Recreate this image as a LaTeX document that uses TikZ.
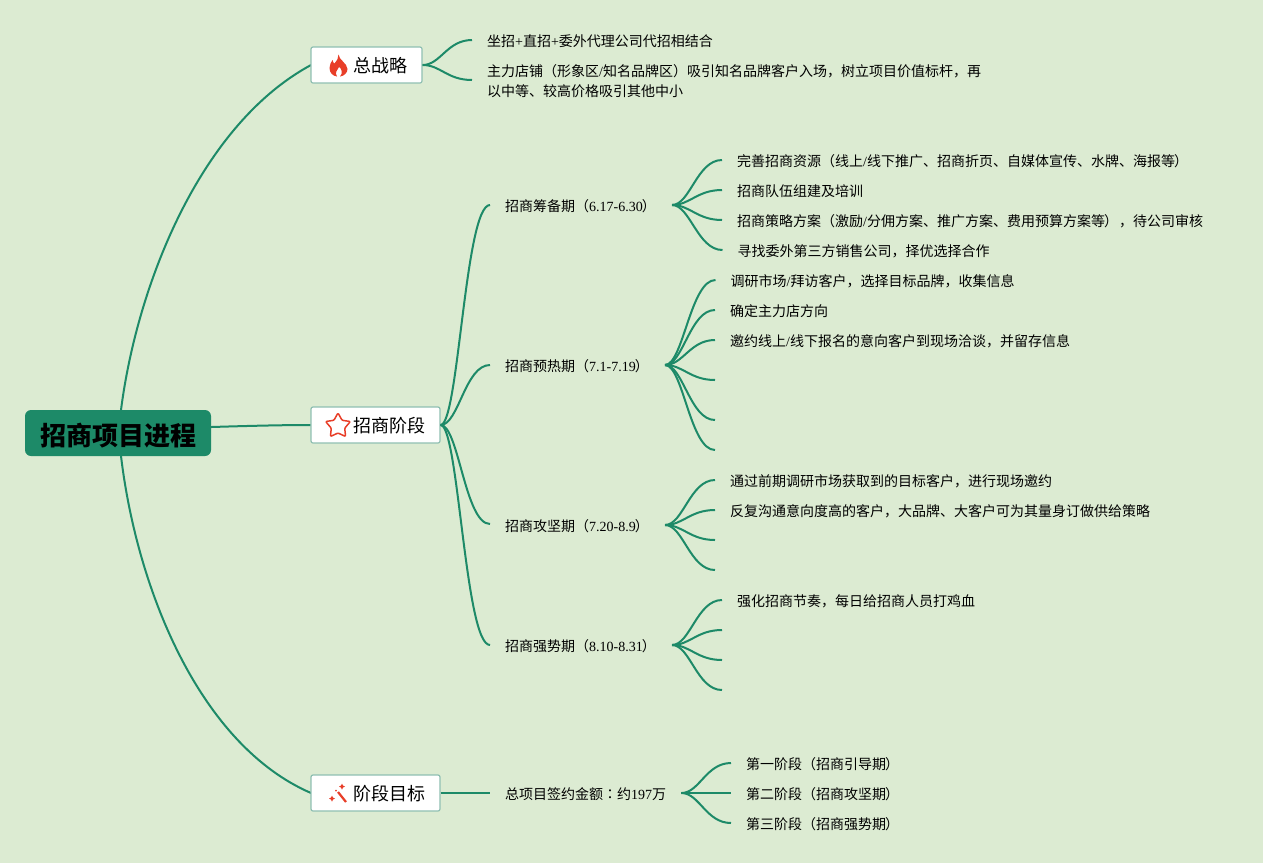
\documentclass[tikz,border=0pt]{standalone}
\usepackage{fontspec}
\setmainfont{Noto Sans CJK SC}
\newfontfamily\latinfont{Liberation Serif}
\newfontfamily\colonfont{Noto Sans CJK TC}
\newcommand{\lat}[1]{{\latinfont #1}}
\newcommand{\rparen}{\kern-1pt）\kern1pt}

\definecolor{bgcolor}{RGB}{220,235,210}
\definecolor{linecolor}{RGB}{29,138,104}
\definecolor{rimcolor}{RGB}{143,191,178}
\definecolor{iconred}{RGB}{232,62,40}

\tikzset{
  rootbox/.style={fill=linecolor,rounded corners=6pt,minimum width=186pt,minimum height=46pt,
    inner sep=0pt,text height=26pt,text depth=2pt,font=\fontsize{26}{30}\selectfont\bfseries},
  topicbox/.style={draw=rimcolor,line width=1.2pt,fill=white,rounded corners=2pt,
    minimum height=36pt,inner sep=0pt},
  topictext/.style={anchor=west,inner sep=0pt,font=\fontsize{18}{22}\selectfont},
  leaftext/.style={anchor=west,inner xsep=15pt,inner ysep=2pt,align=left,
    font=\fontsize{14}{20}\selectfont},
  branch/.style={line width=2pt,linecolor,to path={.. controls +(18,0) and +(-25,0) .. (\tikztotarget)}},
  mainbranch/.style={line width=2pt,linecolor}
}

\begin{document}
\begin{tikzpicture}[x=1pt,y=-1pt]
\useasboundingbox[fill=bgcolor] (0,0) rectangle (1263,863);

% Center and main topics
\draw[mainbranch] (121,410) .. controls (137,285) and (200,125) .. (311,65);
\draw[mainbranch] (121,456) .. controls (137,590) and (200,745) .. (311,793);
\node[rootbox] (root) at (118,433) {招商项目进程};
\node[topicbox,minimum width=111pt] (strategy) at (366.5,65) {};
\node[topicbox,minimum width=129pt] (stage) at (375.5,425) {};
\node[topicbox,minimum width=129pt] (goal) at (375.5,793) {};
\node[topictext] (strategylabel) at (353,66) {总战略};
\node[topictext] (stagelabel) at (353,426) {招商阶段};
\node[topictext] (goallabel) at (353,794) {阶段目标};
\draw[mainbranch] (root.east |- 0,427) .. controls (245,426) and (280,425) .. (stage.west);

% Icons
\fill[iconred] (338.5,54.5) .. controls (339,60) and (347,63) .. (347.5,69)
  .. controls (347.5,73) and (344,76) .. (340,76.5)
  .. controls (343,73) and (342,69) .. (339,67)
  .. controls (338,70) and (334,72) .. (337,76.5)
  .. controls (333,76) and (329.5,73) .. (329.5,68)
  .. controls (329.5,65) and (331,62) .. (332.5,60)
  .. controls (333,62) and (333.5,63) .. (334.5,63.5)
  .. controls (337,61) and (338.5,58) .. (338.5,54.5) -- cycle;
\draw[iconred,line width=1.5pt,line join=round,rounded corners=1pt]
  (338,413) -- (342.1,420.3) -- (350.4,421.5) -- (344.7,428.2) -- (345.6,436.5)
  -- (338,433) -- (330.4,436.5) -- (331.3,428.2) -- (325.6,421.5) -- (333.9,420.3) -- cycle;
\draw[iconred,line width=2.2pt] (338,792) -- (346,802);
\fill[iconred] (342,783.5) -- (343,785.5) -- (345,786.5) -- (343,787.5) -- (342,789.5) -- (341,787.5) -- (339,786.5) -- (341,785.5) -- cycle;
\fill[iconred] (332,795.5) -- (333,797.5) -- (335,798.5) -- (333,799.5) -- (332,801.5) -- (331,799.5) -- (329,798.5) -- (331,797.5) -- cycle;
\fill[iconred] (336,790.5) circle (1);

% Strategy branch
\node[leaftext] (s1) at (472,41) {坐招\lat{+}直招\lat{+}委外代理公司代招相结合};
\node[leaftext] (s2) at (472,81) {主力店铺（形象区\lat{/}知名品牌区）吸引知名品牌客户入场，树立项目价值标杆，再\\以中等、较高价格吸引其他中小};
\draw[branch] (strategy.east) to ([yshift=1pt]s1.west);
\draw[branch] (strategy.east) to ([yshift=1pt]s2.west);

% Stage branch
\node[leaftext] (prep) at (490,206) {招商筹备期（\lat{6.17-6.30}\rparen};
\node[leaftext] (warm) at (490,366) {招商预热期（\lat{7.1-7.19}\rparen};
\node[leaftext] (push) at (490,526) {招商攻坚期（\lat{7.20-8.9}\rparen};
\node[leaftext] (rush) at (490,646) {招商强势期（\lat{8.10-8.31}\rparen};
\draw[branch] (stage.east) to ([yshift=1pt]prep.west);
\draw[branch] (stage.east) to ([yshift=1pt]warm.west);
\draw[branch] (stage.east) to ([yshift=2pt]push.west);
\draw[branch] (stage.east) to ([yshift=1pt]rush.west);

% Preparation period
\node[leaftext] (p1) at (722,161) {完善招商资源（线上\lat{/}线下推广、招商折页、自媒体宣传、水牌、海报等\rparen};
\node[leaftext] (p2) at (722,191) {招商队伍组建及培训};
\node[leaftext] (p3) at (722,221) {招商策略方案（激励\lat{/}分佣方案、推广方案、费用预算方案等\rparen，待公司审核};
\node[leaftext] (p4) at (722.5,251) {寻找委外第三方销售公司，择优选择合作};
\foreach \leaf in {p1,p2,p3,p4}
  \draw[branch] ([yshift=1pt]prep.east) to ([yshift=1pt]\leaf.west);

% Warm-up period
\node[leaftext] (w1) at (715.5,281) {调研市场\lat{/}拜访客户，选择目标品牌，收集信息};
\node[leaftext] (w2) at (715,311) {确定主力店方向};
\node[leaftext] (w3) at (715,341) {邀约线上\lat{/}线下报名的意向客户到现场洽谈，并留存信息};
\coordinate (w4) at (715,380);
\coordinate (w5) at (715,420);
\coordinate (w6) at (715,450);
\foreach \leaf in {w1,w2,w3}
  \draw[branch] ([yshift=1pt]warm.east) to ([yshift=1pt]\leaf.west);
\foreach \leaf in {w4,w5,w6}
  \draw[branch] ([yshift=1pt]warm.east) to (\leaf);

% Attack period
\node[leaftext] (a1) at (715,481) {通过前期调研市场获取到的目标客户，进行现场邀约};
\node[leaftext] (a2) at (715,511) {反复沟通意向度高的客户，大品牌、大客户可为其量身订做供给策略};
\coordinate (a3) at (715,540);
\coordinate (a4) at (715,570);
\foreach \leaf in {a1,a2}
  \draw[branch] ([yshift=1pt]push.east) to ([yshift=1pt]\leaf.west);
\foreach \leaf in {a3,a4}
  \draw[branch] ([yshift=1pt]push.east) to (\leaf);

% Strong period
\node[leaftext] (r1) at (722,601) {强化招商节奏，每日给招商人员打鸡血};
\coordinate (r2) at (722,630);
\coordinate (r3) at (722,660);
\coordinate (r4) at (722,690);
\draw[branch] ([yshift=1pt]rush.east) to ([yshift=1pt]r1.west);
\foreach \leaf in {r2,r3,r4}
  \draw[branch] ([yshift=1pt]rush.east) to (\leaf);

% Goal branch
\node[leaftext] (total) at (490,794) {总项目签约金额{\colonfont ：}约\lat{197}万};
\draw[branch] (goal.east) to ([yshift=1pt]total.west);
\node[leaftext] (g1) at (731,764) {第一阶段（招商引导期\rparen};
\node[leaftext] (g2) at (731,794) {第二阶段（招商攻坚期\rparen};
\node[leaftext] (g3) at (731,824) {第三阶段（招商强势期\rparen};
\foreach \leaf in {g1,g2,g3}
  \draw[branch] ([yshift=1pt]total.east) to ([yshift=1pt]\leaf.west);

\end{tikzpicture}
\end{document}
